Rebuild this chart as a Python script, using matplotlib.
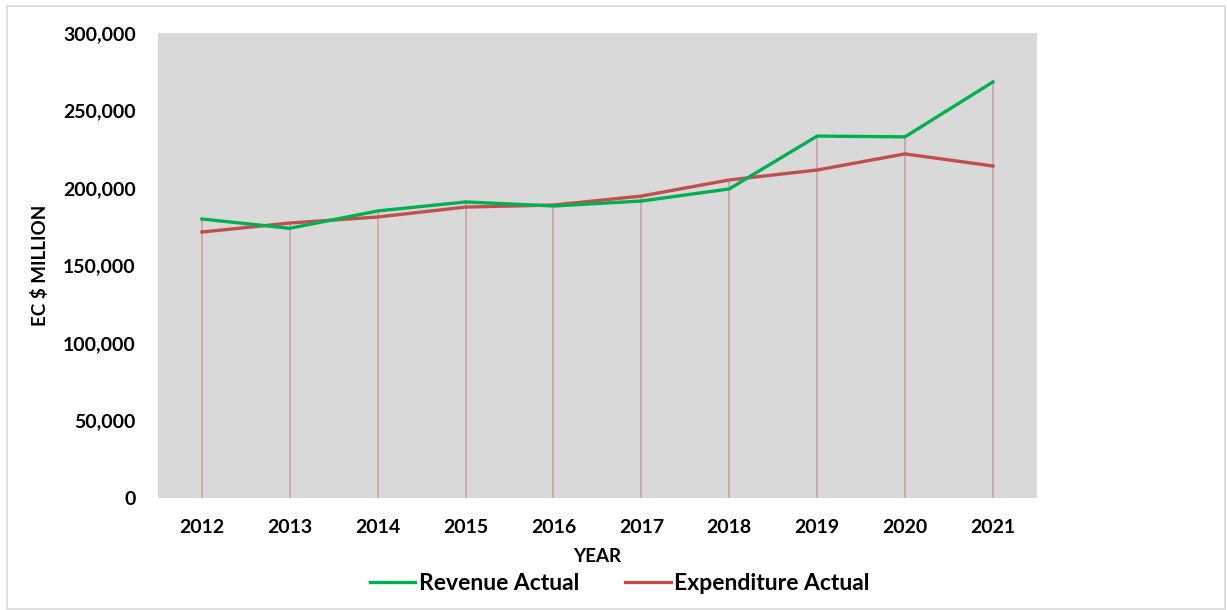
import numpy as np
import matplotlib
matplotlib.use('Agg')
import matplotlib.pyplot as plt
from matplotlib.patches import Rectangle

plt.rcParams['font.family'] = ['Lato', 'DejaVu Sans']

years = ['2012', '2013', '2014', '2015', '2016', '2017', '2018', '2019', '2020', '2021']
revenue = [180000, 174000, 185200, 191000, 188400, 191600, 199400, 233500, 233000, 268400]
expenditure = [171600, 177400, 181300, 187700, 189000, 194800, 205200, 211600, 222000, 214200]

fig = plt.figure(figsize=(12.27, 6.10), dpi=100)
fig.patches.append(Rectangle((0.006, 0.002), 0.992, 0.988, transform=fig.transFigure,
                             fill=False, edgecolor='#d9d9d9', linewidth=1.2))
ax = fig.add_axes([0.1288, 0.1836, 0.7162, 0.7623])
ax.set_facecolor('#d9d9d9')

x = np.arange(len(years))
tops = np.maximum(revenue, expenditure)
ax.vlines(x, 0, tops, color='#c9a3a3', linewidth=1.2, zorder=1)
ax.plot(x, revenue, color='#00b050', linewidth=2.4, label='Revenue Actual', zorder=3)
ax.plot(x, expenditure, color='#c0504d', linewidth=2.4, label='Expenditure Actual', zorder=2)

ax.set_xlim(-0.5, len(years) - 0.5)
ax.set_ylim(0, 300000)
ax.set_yticks(np.arange(0, 300001, 50000))
ax.set_yticklabels(['{:,}'.format(v) for v in range(0, 300001, 50000)])
ax.set_xticks(x)
ax.set_xticklabels(years)
ax.tick_params(length=0, labelsize=14)
ax.tick_params(axis='y', pad=16)
ax.tick_params(axis='x', pad=15)
for lbl in ax.get_xticklabels() + ax.get_yticklabels():
    lbl.set_fontweight('bold')
for s in ax.spines.values():
    s.set_visible(False)

ax.set_xlabel('YEAR', fontsize=13.5, fontweight='bold', labelpad=9)
fig.text(0.033, 0.565, 'EC $ MILLION', rotation=90, fontsize=13.5, fontweight='bold',
         ha='center', va='center')

leg = fig.legend(loc='center', bbox_to_anchor=(0.505, 0.044), ncol=2, frameon=False,
                 prop={'size': 16.5, 'weight': 'bold'}, handlelength=2.0,
                 handletextpad=0.15, columnspacing=2.0)

fig.savefig('out.png', dpi=100)
